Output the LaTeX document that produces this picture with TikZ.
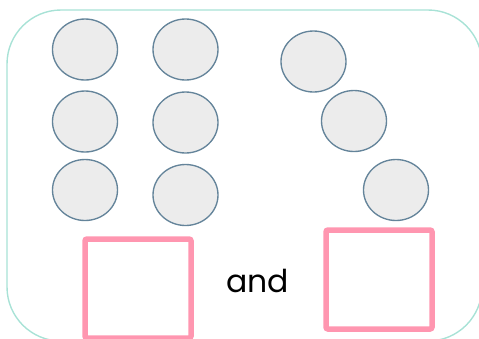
\documentclass[tikz,border=0pt]{standalone}
\usepackage{fontspec}
\setmainfont{Poppins}
\usepackage{xcolor}
\usetikzlibrary{shapes.geometric,positioning}

\definecolor{frameteal}{HTML}{A8E2D6}
\definecolor{dotfill}{HTML}{ECECEC}
\definecolor{dotedge}{HTML}{64849A}
\definecolor{boxpink}{HTML}{FF96B0}

\begin{document}
\begin{tikzpicture}[
    x=1pt, y=-1pt,
    counter/.style={
        ellipse, draw=dotedge, fill=dotfill,
        line width=1.35pt,
        minimum width=65pt, minimum height=61pt
    },
    answerbox/.style={
        rectangle, draw=boxpink, line width=5.5pt,
        rounded corners=2pt,
        minimum width=106pt, minimum height=99pt
    }
]
    \useasboundingbox (0,0) rectangle (479,338);
    \clip (0,0) rectangle (479,338);

    % outer frame
    \draw [frameteal, line width=1.4pt, rounded corners=54pt] (7,10) rectangle (482,341);

    % left group: two columns of three
    \node [counter] (l1) at (85,49.5) {};
    \node [counter] (r1) at (185.5,49.5) {};
    \node [counter] (l2) at (85,121.5) {};
    \node [counter] (r2) at (185.5,122.5) {};
    \node [counter] (l3) at (85,190) {};
    \node [counter] (r3) at (185.5,195) {};

    % right group: diagonal of three
    \node [counter] (d1) at (313.5,61.5) {};
    \node [counter] (d2) at (354,121) {};
    \node [counter] (d3) at (396,190) {};

    % boxes to fill in
    \node [answerbox] (leftbox) at (138,288.5) {};
    \node [answerbox] (rightbox) at (379,279.5) {};
    \node [font=\fontsize{31.5}{32}\selectfont, inner sep=0pt, anchor=base] (and) at (257.5,292) {and};

\end{tikzpicture}
\end{document}
